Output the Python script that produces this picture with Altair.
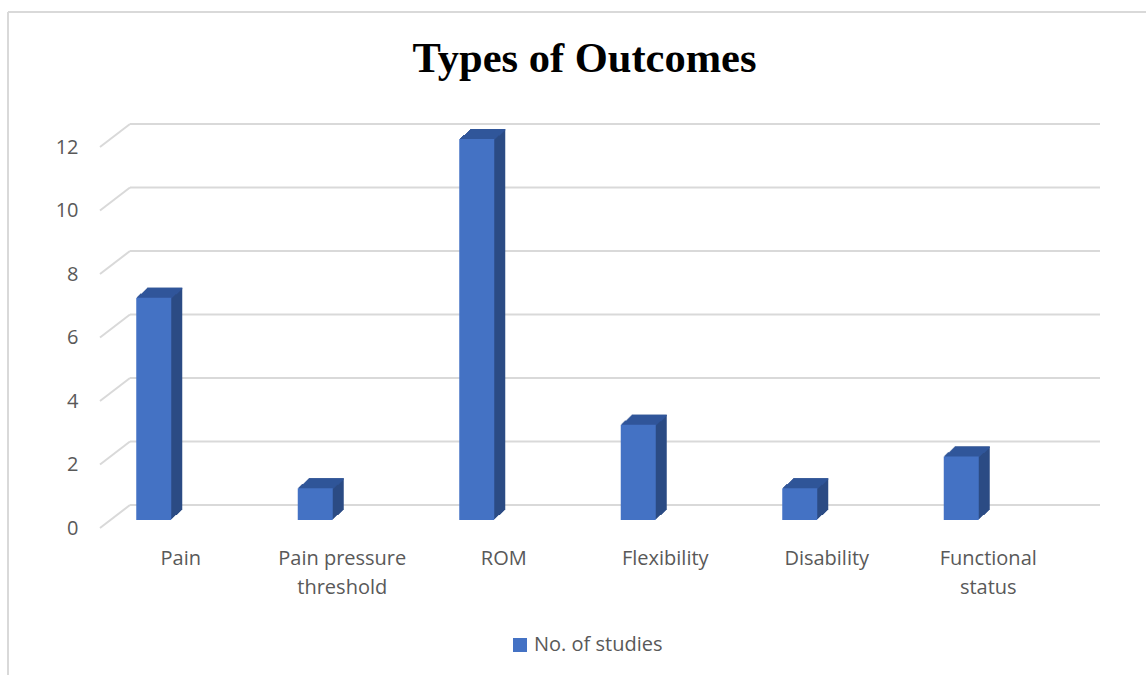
import altair as alt
import pandas as pd

categories = ["Pain", "Pain pressure threshold", "ROM", "Flexibility", "Disability", "Functional status"]
values = [7, 1, 12, 3, 1, 2]
series_name = "No. of studies"
ticks = [0, 2, 4, 6, 8, 10, 12]

df = pd.DataFrame({"category": categories, "value": values, "series": [series_name] * len(categories)})
grid_df = pd.DataFrame({"v": ticks})
frame_df = pd.DataFrame({"k": [0]})

FONT = "Open Sans"
FRONT = "#4472C4"
SIDE = "#2B4B84"
TOP = "#30569A"
GRID = "#D9D9D9"
TXT = "#595959"

BAR_W = 35
FRONT_DX = -27
DEPTH_X = 11
DEPTH_Y = 10
STEPS = 10

yscale = alt.Scale(domain=[0, 12], nice=False, zero=True)
xscale = alt.Scale(paddingInner=0, paddingOuter=0)

yaxis = alt.Axis(values=ticks, domain=False, ticks=False, grid=False, labelPadding=22,
                 labelOffset=8, labelFont=FONT, labelFontSize=20, labelColor=TXT)

label_expr = ("datum.label == 'Pain pressure threshold' ? ['Pain pressure', 'threshold'] : "
              "datum.label == 'Functional status' ? ['Functional', 'status'] : datum.label")
xaxis = alt.Axis(labelExpr=label_expr, labelAngle=0, domain=False, ticks=False,
                 labelPadding=28, labelFont=FONT, labelFontSize=20, labelColor=TXT,
                 labelLineHeight=29)

def yq(field):
    return alt.Y(field, scale=yscale, title=None, axis=yaxis)

xenc = alt.X("category:N", sort=categories, scale=xscale, title=None, axis=xaxis)

frame_left = alt.Chart(frame_df).mark_rule(color=GRID, strokeWidth=2).encode(
    x=alt.value(-92), y=alt.value(-127), y2=alt.value(540))
frame_top = alt.Chart(frame_df).mark_rule(color=GRID, strokeWidth=2).encode(
    x=alt.value(-92), x2=alt.value(1050), y=alt.value(-127))

grid_back = alt.Chart(grid_df).mark_rule(color=GRID, strokeWidth=2, yOffset=-15).encode(
    y=yq("v:Q"), x=alt.value(30), x2=alt.value(1000))
grid_diag = alt.Chart(grid_df).mark_rule(color=GRID, strokeWidth=2, yOffset=8, y2Offset=-15).encode(
    y=yq("v:Q"), y2="v:Q", x=alt.value(0), x2=alt.value(30))

layers = [frame_left, frame_top, grid_back, grid_diag]

# extruded depth (side face colour)
for i in range(1, STEPS + 1):
    dx = FRONT_DX + round(DEPTH_X * i / STEPS)
    dy = -DEPTH_Y * i / STEPS
    layers.append(alt.Chart(df).mark_bar(color=SIDE, width=BAR_W, xOffset=dx, yOffset=dy, y2Offset=dy).encode(
        x=xenc, y=yq("value:Q")))

# top face strips
for i in range(1, STEPS + 1):
    dx = FRONT_DX + round(DEPTH_X * i / STEPS)
    y_top = -DEPTH_Y * i / STEPS
    y_bot = -DEPTH_Y * (i - 1) / STEPS + 0.5
    layers.append(alt.Chart(df).mark_bar(color=TOP, width=BAR_W, xOffset=dx, yOffset=y_top, y2Offset=y_bot).encode(
        x=xenc, y=yq("value:Q"), y2="value:Q"))

front_face = alt.Chart(df).mark_bar(width=BAR_W, xOffset=FRONT_DX).encode(
    x=xenc,
    y=yq("value:Q"),
    color=alt.Color("series:N", scale=alt.Scale(range=[FRONT]),
                    legend=alt.Legend(title=None, orient="none", legendX=410, legendY=496,
                                      symbolType="square", symbolSize=196, symbolStrokeWidth=0,
                                      labelFont=FONT, labelFontSize=20, labelColor=TXT,
                                      labelOffset=4)))
layers.append(front_face)

chart = alt.layer(*layers).properties(
    width=969, height=381,
    background="white",
    title=alt.Title("Types of Outcomes", font="Liberation Serif", fontSize=42.5, fontWeight="bold",
                    color="black", anchor="middle", frame="group", offset=0, dy=103,
                    baseline="alphabetic"),
    autosize=alt.AutoSizeParams(type="none"),
    padding={"left": 100, "top": 139, "right": 77, "bottom": 155},
).configure_view(stroke="transparent", strokeWidth=0)

chart.save("out.html", embed_options={"renderer": "svg", "actions": False})
